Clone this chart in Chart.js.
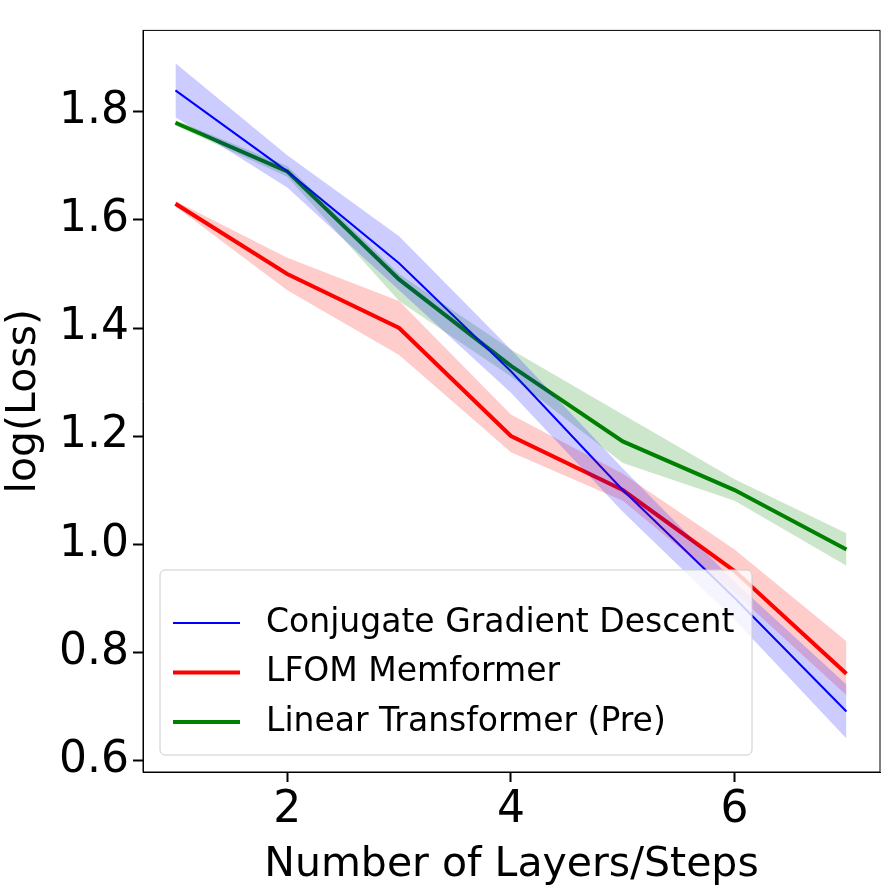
<!DOCTYPE html>
<html>
<head>
<script src="https://cdn.jsdelivr.net/npm/chart.js@4.4.1/dist/chart.umd.min.js"></script>
<style>body{margin:0;background:#fff}</style>
</head>
<body>
<canvas id="c" width="890" height="890"></canvas>
<script>
const steps = [1, 2, 3, 4, 5, 6, 7];
const cgMean = [1.84, 1.69, 1.52, 1.32, 1.10, 0.90, 0.69];
const cgUpper = [1.89, 1.72, 1.57, 1.36, 1.14, 0.93, 0.74];
const cgLower = [1.79, 1.66, 1.47, 1.28, 1.06, 0.86, 0.64];
const lfomMean = [1.63, 1.50, 1.40, 1.20, 1.10, 0.95, 0.76];
const lfomUpper = [1.635, 1.53, 1.45, 1.24, 1.13, 0.99, 0.82];
const lfomLower = [1.625, 1.47, 1.35, 1.17, 1.08, 0.91, 0.72];
const ltMean = [1.78, 1.69, 1.49, 1.33, 1.19, 1.10, 0.99];
const ltUpper = [1.785, 1.70, 1.50, 1.36, 1.24, 1.12, 1.02];
const ltLower = [1.775, 1.68, 1.45, 1.31, 1.15, 1.08, 0.96];
const xTicks = [2, 4, 6];
const yTicks = [0.6, 0.8, 1.0, 1.2, 1.4, 1.6, 1.8];

const pts = arr => arr.map((v, i) => ({x: steps[i], y: v}));
const band = (up, lo, col) => [
  {data: pts(up), borderWidth: 0, pointRadius: 0, fill: '+1', backgroundColor: col, tension: 0},
  {data: pts(lo), borderWidth: 0, pointRadius: 0, fill: false, tension: 0}
];
const line = (d, col, w) => ({data: pts(d), borderColor: col, borderWidth: w, pointRadius: 0, fill: false, tension: 0});

const legendItems = [
  {label: 'Conjugate Gradient Descent', color: '#0000ff', w: 2},
  {label: 'LFOM Memformer', color: '#ff0000', w: 4},
  {label: 'Linear Transformer (Pre)', color: '#008000', w: 4}
];

const boxPlugin = {
  id: 'boxLegend',
  afterDraw(chart) {
    const {ctx, chartArea: a} = chart;
    ctx.save();
    ctx.strokeStyle = '#000';
    ctx.lineWidth = 1;
    ctx.strokeRect(a.left, a.top, a.right - a.left, a.bottom - a.top);
    ctx.fillStyle = 'rgba(255,255,255,0.8)';
    ctx.strokeStyle = '#ccc';
    ctx.beginPath();
    ctx.roundRect(160, 570, 592, 185, 5);
    ctx.fill();
    ctx.stroke();
    ctx.font = '33px "DejaVu Sans"';
    ctx.textBaseline = 'middle';
    legendItems.forEach((it, i) => {
      const y = 623 + i * 49.5;
      ctx.strokeStyle = it.color;
      ctx.lineWidth = it.w;
      ctx.beginPath();
      ctx.moveTo(173, y);
      ctx.lineTo(240, y);
      ctx.stroke();
      ctx.fillStyle = '#000';
      ctx.fillText(it.label, 266, y);
    });
    ctx.restore();
  }
};

new Chart(document.getElementById('c'), {
  type: 'line',
  data: {
    datasets: [
      ...band(cgUpper, cgLower, 'rgba(0,0,255,0.2)'),
      ...band(lfomUpper, lfomLower, 'rgba(255,0,0,0.2)'),
      ...band(ltUpper, ltLower, 'rgba(0,128,0,0.2)'),
      line(cgMean, '#0000ff', 2),
      line(lfomMean, '#ff0000', 4),
      line(ltMean, '#008000', 4)
    ]
  },
  options: {
    responsive: false,
    animation: false,
    layout: {padding: {top: -6, right: 10, left: 0, bottom: 0}},
    plugins: {legend: {display: false}, tooltip: {enabled: false}},
    scales: {
      x: {
        type: 'linear', min: 0.71, max: 7.3,
        afterBuildTicks: s => { s.ticks = xTicks.map(v => ({value: v})); },
        afterFit: s => { s.height = 118; },
        grid: {drawOnChartArea: false, tickLength: 10, color: '#000', tickWidth: 2},
        border: {color: '#000'},
        ticks: {color: '#000', font: {size: 44, family: 'DejaVu Sans'}, padding: 2},
        title: {display: true, text: 'Number of Layers/Steps', color: '#000', font: {size: 41, family: 'DejaVu Sans'}, padding: 0}
      },
      y: {
        type: 'linear', min: 0.578, max: 1.951,
        afterBuildTicks: s => { s.ticks = yTicks.map(v => ({value: v})); },
        afterFit: s => { s.width = 143; },
        grid: {drawOnChartArea: false, tickLength: 10, color: '#000', tickWidth: 2},
        border: {color: '#000'},
        ticks: {color: '#000', font: {size: 44, family: 'DejaVu Sans'}, padding: 4, callback: v => v.toFixed(1)},
        title: {display: true, text: 'log(Loss)', color: '#000', font: {size: 41, family: 'DejaVu Sans'}, padding: 0}
      }
    }
  },
  plugins: [boxPlugin]
});
</script>
</body>
</html>
